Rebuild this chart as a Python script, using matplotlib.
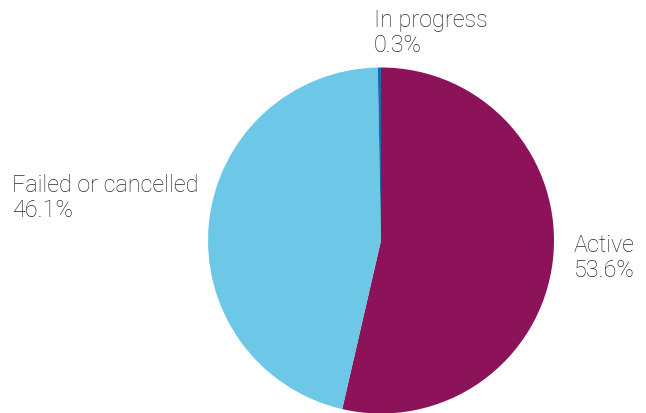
import matplotlib.pyplot as plt

# Anteile der Status-Kategorien (in Prozent)
categories = ['Active', 'Failed or cancelled', 'In progress']
shares = [53.6, 46.1, 0.3]
colors = ['#8C125A', '#6DC7E7', '#1B6CAF']

plt.rcParams['font.family'] = ['Roboto', 'DejaVu Sans']

fig = plt.figure(figsize=(6.46, 4.14), dpi=100)
W, H = 646, 414

# Kreis: Mittelpunkt ~(381, 241) px, Radius ~173 px
cx, cy, r = 381, 241.5, 173
ax = fig.add_axes([(cx - r) / W, (H - cy - r) / H, 2 * r / W, 2 * r / H])
ax.pie(shares, colors=colors, startangle=90, counterclock=False,
       wedgeprops=dict(linewidth=0))
ax.set_xlim(-1, 1)
ax.set_ylim(-1, 1)
ax.set_aspect('equal')
ax.axis('off')

# Beschriftungen (links oben verankert, Pixelkoordinaten)
label_pos = {'Active': (574, 234), 'Failed or cancelled': (12, 174), 'In progress': (374, 9)}
for cat, val in zip(categories, shares):
    x, y = label_pos[cat]
    fig.text(x / W, 1 - y / H, f'{cat}\n{val}%', ha='left', va='top',
             fontsize=16.8, fontweight='light', color='#2a2a2a', linespacing=1.12)

fig.savefig('out.png', dpi=100)
